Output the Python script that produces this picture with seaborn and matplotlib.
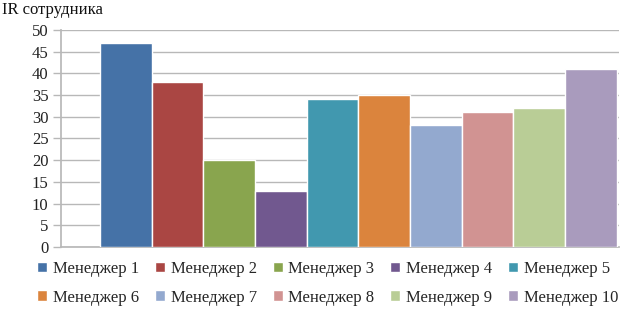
import matplotlib
matplotlib.use("Agg")
import matplotlib.pyplot as plt
import seaborn as sns
import pandas as pd

managers = [f"Менеджер {i}" for i in range(1, 11)]
values = [47, 38, 20, 13, 34, 35, 28, 31, 32, 41]
colors = ["#4572A7", "#AA4643", "#89A54E", "#71588F", "#4198AF",
          "#DB843D", "#93A9CF", "#D19392", "#B9CD96", "#A99BBD"]
y_ticks = [0, 5, 10, 15, 20, 25, 30, 35, 40, 45, 50]
title = "IR сотрудника"

sns.set_theme(style="white")
plt.rcParams["font.family"] = ["Liberation Serif", "DejaVu Serif"]

df = pd.DataFrame({"manager": managers, "value": values})

fig = plt.figure(figsize=(6.23, 3.11), dpi=100)
ax = fig.add_axes([0.098, 0.206, 0.896, 0.6975])

sns.barplot(data=df, x="manager", y="value", hue="manager", palette=colors,
            saturation=1, dodge=False, width=1.0, edgecolor="white", linewidth=1.0,
            legend=True, ax=ax, zorder=3)

ax.set_xlim(-1.255, 9.55)
ax.set_ylim(0, 50)
ax.set_yticks(y_ticks)
ax.set_yticklabels([str(t) for t in y_ticks], fontsize=12, color="#222222")
ax.set_xticks([])
ax.set_xlabel("")
ax.set_ylabel("")
ax.grid(axis="y", color="#b8b8b8", linewidth=1.0, zorder=0)
for s in ["top", "right"]:
    ax.spines[s].set_visible(False)
ax.spines["left"].set_color("#b8b8b8")
ax.spines["bottom"].set_color("#b8b8b8")
ax.tick_params(axis="y", length=6, width=1.0, color="#b8b8b8", direction="out", pad=3, left=True)

fig.text(0.004, 0.995, title, ha="left", va="top", fontsize=12, color="#111111")

handles, labels = ax.get_legend_handles_labels()
order = [0, 5, 1, 6, 2, 7, 3, 8, 4, 9]
leg = ax.legend([handles[i] for i in order], [labels[i] for i in order],
                loc="upper left", ncol=5, frameon=False, fontsize=12,
                handlelength=0.6, handleheight=0.6, handletextpad=0.35,
                columnspacing=0.95, labelspacing=0.75, borderpad=0, borderaxespad=0)
leg.set_bbox_to_anchor((37 / 623, 1 - 261 / 311), transform=fig.transFigure)

fig.savefig("out.png", dpi=100)
